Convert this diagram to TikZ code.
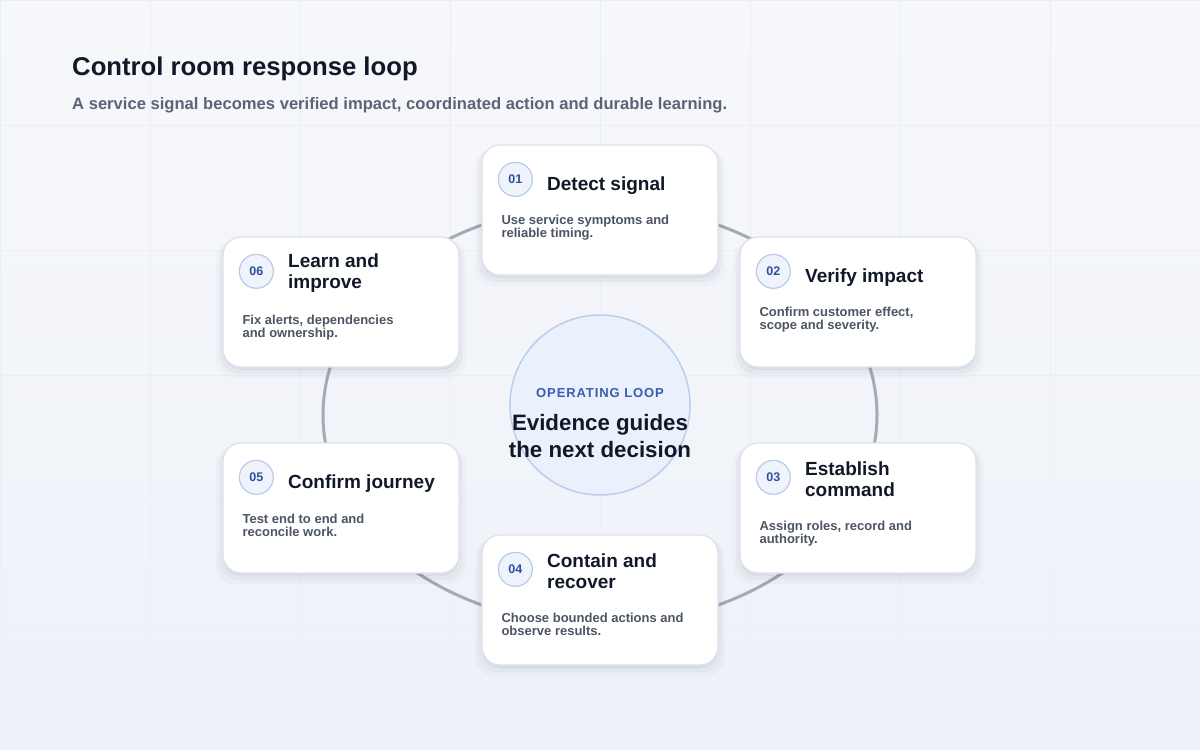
\documentclass[tikz,border=0pt]{standalone}
\usepackage{fontspec}
\setmainfont{Liberation Sans}
\newfontfamily\trackedfont[LetterSpace=7]{Liberation Sans}
\usetikzlibrary{positioning,shadows}

\definecolor{ink}{HTML}{111827}
\definecolor{muted}{HTML}{4B5563}
\definecolor{subtle}{HTML}{5B6475}
\definecolor{accent}{HTML}{2F4F9E}
\definecolor{kickerblue}{HTML}{3A5CB0}
\definecolor{badgefill}{HTML}{EEF3FC}
\definecolor{badgeline}{HTML}{B9CAEB}
\definecolor{cardline}{HTML}{DDE3EC}
\definecolor{ringgray}{HTML}{A4AAB6}
\definecolor{hubfill}{HTML}{EBF1FC}
\definecolor{hubline}{HTML}{BCCDEE}
\definecolor{bgtop}{HTML}{F7F8FB}
\definecolor{bgbottom}{HTML}{EDF1F8}
\definecolor{gridgray}{HTML}{EBEEF4}
\definecolor{shadowtint}{HTML}{1E2A44}

\begin{document}
\begin{tikzpicture}[
    x=1pt, y=-1pt,
    heading/.style={anchor=west, inner sep=0pt, text=ink, font=\fontsize{25.7}{30}\selectfont\bfseries},
    subheading/.style={anchor=west, inner sep=0pt, text=subtle, font=\fontsize{16.6}{20}\selectfont\bfseries},
    ring/.style={draw=ringgray, line width=3pt},
    hub/.style={circle, draw=hubline, fill=hubfill, line width=1.5pt, minimum size=180pt, inner sep=0pt},
    kicker/.style={inner sep=0pt, text=kickerblue, font=\fontsize{13}{13}\selectfont\trackedfont\bfseries},
    hubtext/.style={inner sep=0pt, align=center, text=ink, font=\fontsize{22.3}{27}\selectfont\bfseries},
    card/.style={draw=cardline, line width=1.3pt, fill=white, rounded corners=18pt,
        minimum width=236pt, minimum height=130pt,
        drop shadow={shadow xshift=0pt, shadow yshift=-7pt, shadow scale=1.06, opacity=0.025, fill=shadowtint},
        drop shadow={shadow xshift=0pt, shadow yshift=-5pt, shadow scale=1.03, opacity=0.04, fill=shadowtint},
        drop shadow={shadow xshift=0pt, shadow yshift=-3pt, opacity=0.05, fill=shadowtint}},
    badge/.style={circle, draw=badgeline, fill=badgefill, line width=1.2pt, minimum size=34pt, inner sep=0pt,
        text=accent, font=\fontsize{12.5}{12.5}\selectfont\bfseries},
    steptitle/.style={anchor=west, align=left, inner sep=0pt, text=ink, font=\fontsize{19}{21}\selectfont\bfseries},
    stepdesc/.style={anchor=north west, align=left, inner sep=0pt, text=muted, font=\fontsize{13}{13}\selectfont\bfseries}
]

    % Background and faint grid
    \useasboundingbox (0,0) rectangle (1200,750);
    \shade[top color=bgtop, bottom color=bgbottom] (0,0) rectangle (1200,750);
    \draw[gridgray, line width=1pt] (0,0) grid[xstep=150pt, ystep=125pt] (1200,750);

    % Heading
    \node[heading] (title) at (72,69) {Control room response loop};
    \node[subheading] (subtitle) at (72,105) {A service signal becomes verified impact, coordinated action and durable learning.};

    % Loop ring
    \draw[ring] (600,415) ellipse [x radius=277pt, y radius=210pt];

    % Centre hub
    \node[hub] (hub) at (600,405) {};
    \node[kicker] (kicker) at (600,393) {OPERATING LOOP};
    \node[hubtext] (hubtext) at (600,436) {Evidence guides\\the next decision};

    % Step 01
    \node[card] (c1) at (600,210) {};
    \node[badge] (b1) at ([xshift=34pt, yshift=-35pt] c1.north west) {01};
    \node[steptitle, right=14pt of b1, yshift=-6pt] (t1) {Detect signal};
    \node[stepdesc] (d1) at ([xshift=20pt, yshift=-71pt] c1.north west) {Use service symptoms and\\reliable timing.};

    % Step 02
    \node[card] (c2) at (858,302) {};
    \node[badge] (b2) at ([xshift=34pt, yshift=-35pt] c2.north west) {02};
    \node[steptitle, right=14pt of b2, yshift=-6pt] (t2) {Verify impact};
    \node[stepdesc] (d2) at ([xshift=20pt, yshift=-71pt] c2.north west) {Confirm customer effect,\\scope and severity.};

    % Step 03
    \node[card] (c3) at (858,508) {};
    \node[badge] (b3) at ([xshift=34pt, yshift=-35pt] c3.north west) {03};
    \node[steptitle, right=14pt of b3, yshift=-2pt] (t3) {Establish\\command};
    \node[stepdesc] (d3) at ([xshift=20pt, yshift=-79pt] c3.north west) {Assign roles, record and\\authority.};

    % Step 04
    \node[card] (c4) at (600,600) {};
    \node[badge] (b4) at ([xshift=34pt, yshift=-35pt] c4.north west) {04};
    \node[steptitle, right=14pt of b4, yshift=-2pt] (t4) {Contain and\\recover};
    \node[stepdesc] (d4) at ([xshift=20pt, yshift=-79pt] c4.north west) {Choose bounded actions and\\observe results.};

    % Step 05
    \node[card] (c5) at (341,508) {};
    \node[badge] (b5) at ([xshift=34pt, yshift=-35pt] c5.north west) {05};
    \node[steptitle, right=14pt of b5, yshift=-6pt] (t5) {Confirm journey};
    \node[stepdesc] (d5) at ([xshift=20pt, yshift=-72pt] c5.north west) {Test end to end and\\reconcile work.};

    % Step 06
    \node[card] (c6) at (341,302) {};
    \node[badge] (b6) at ([xshift=34pt, yshift=-35pt] c6.north west) {06};
    \node[steptitle, right=14pt of b6, yshift=-2pt] (t6) {Learn and\\improve};
    \node[stepdesc] (d6) at ([xshift=20pt, yshift=-79pt] c6.north west) {Fix alerts, dependencies\\and ownership.};

\end{tikzpicture}
\end{document}
